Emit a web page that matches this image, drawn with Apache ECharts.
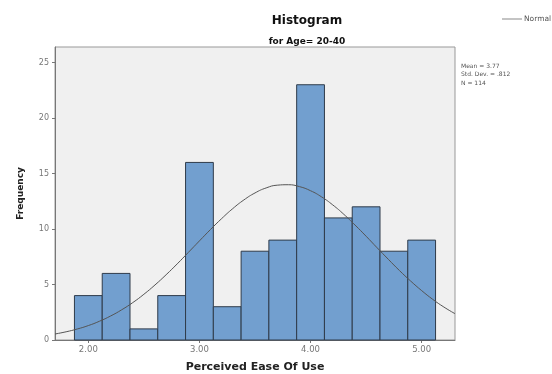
<!DOCTYPE html>
<html><head><meta charset="utf-8">
<script src="https://cdn.jsdelivr.net/npm/echarts@6/dist/echarts.min.js"></script>
<style>html,body{margin:0;padding:0;background:#fff}#c{width:552px;height:374px}</style>
</head><body><div id="c"></div>
<script>
// Bin centers (Perceived Ease Of Use), bin width 0.25
var binCenters = [2.00, 2.25, 2.50, 2.75, 3.00, 3.25, 3.50, 3.75, 4.00, 4.25, 4.50, 4.75, 5.00];
var frequencies = [4, 6, 1, 4, 16, 3, 8, 9, 23, 11, 12, 8, 9];
var binWidth = 0.25;
// Normal curve
var curveX = [1.7,1.8,1.9,2.0,2.1,2.2,2.3,2.4,2.5,2.6,2.7,2.8,2.9,3.0,3.1,3.2,3.3,3.4,3.5,3.6,3.7,3.8,3.9,4.0,4.1,4.2,4.3,4.4,4.5,4.6,4.7,4.8,4.9,5.0,5.1,5.2,5.3];
var curveY = [0.54,0.74,0.99,1.30,1.69,2.16,2.72,3.37,4.12,4.96,5.88,6.86,7.89,8.93,9.96,10.94,11.84,12.62,13.25,13.70,13.95,13.99,13.82,13.45,12.89,12.17,11.32,10.36,9.35,8.30,7.27,6.26,5.32,4.45,3.66,2.97,2.37];
var xTicks = [2, 3, 4, 5];
var yTicks = [0, 5, 10, 15, 20, 25];
var statsLines = ['Mean = 3.77', 'Std. Dev. = .812', 'N = 114'];

var FONT = '"DejaVu Sans", Arial, sans-serif';
var chart = echarts.init(document.getElementById('c'), null, {renderer: 'canvas'});
var barData = binCenters.map(function (c, i) { return [c, frequencies[i]]; });
var lineData = curveX.map(function (x, i) { return [x, curveY[i]]; });

chart.setOption({
  animation: false,
  title: [
    {text: 'Histogram', left: 302, top: 10, textAlign: 'center',
     textStyle: {fontFamily: FONT, fontSize: 12, fontWeight: 'bold', color: '#111'}},
    {text: 'for Age= 20-40', left: 302, top: 32, textAlign: 'center',
     textStyle: {fontFamily: FONT, fontSize: 9, fontWeight: 'bold', color: '#111'}}
  ],
  legend: {
    left: 497, top: 10, itemWidth: 20, itemHeight: 1, itemGap: 2,
    textStyle: {fontFamily: FONT, fontSize: 7.5, color: '#555', padding: [0, 0, 0, -3]},
    data: [{name: 'Normal', icon: 'rect', itemStyle: {color: '#888'}}]
  },
  graphic: [{
    type: 'text', left: 461, top: 62,
    style: {text: statsLines.join('\n'), font: '6px "DejaVu Sans", Arial', fill: '#555', lineHeight: 8.5}
  }],
  grid: {left: 55, right: 97, top: 47, bottom: 34, show: true, outerBoundsMode: 'none',
         containLabel: false,
         backgroundColor: '#f0f0f0', borderColor: '#999', borderWidth: 1},
  xAxis: {
    type: 'value', min: 1.7, max: 5.3,
    name: 'Perceived Ease Of Use', nameLocation: 'middle', nameGap: 22,
    nameTextStyle: {fontFamily: FONT, fontSize: 11, fontWeight: 'bold', color: '#222'},
    axisLine: {show: true, lineStyle: {color: '#777'}},
    axisTick: {show: true, customValues: xTicks, length: 3, lineStyle: {color: '#777'}},
    axisLabel: {show: true, customValues: xTicks, fontSize: 8.5, color: '#777', margin: 5,
                fontFamily: FONT,
                formatter: function (v) { return v.toFixed(2); }},
    splitLine: {show: false}
  },
  yAxis: {
    type: 'value', min: 0, max: 26.4, interval: 5,
    name: 'Frequency', nameLocation: 'middle', nameGap: 30, nameRotate: 90,
    nameTextStyle: {fontFamily: FONT, fontSize: 9, fontWeight: 'bold', color: '#222'},
    axisLine: {show: true, lineStyle: {color: '#777'}},
    axisTick: {show: true, customValues: yTicks, length: 3, lineStyle: {color: '#777'}},
    axisLabel: {show: true, customValues: yTicks, fontSize: 8, color: '#777', margin: 6,
                fontFamily: FONT},
    splitLine: {show: false}
  },
  series: [
    {
      type: 'custom', name: 'Frequency', z: 2,
      renderItem: function (params, api) {
        var c = api.value(0), f = api.value(1);
        var p0 = api.coord([c - binWidth / 2, f]);
        var p1 = api.coord([c + binWidth / 2, 0]);
        return {
          type: 'rect',
          shape: {x: p0[0], y: p0[1], width: p1[0] - p0[0], height: p1[1] - p0[1]},
          style: {fill: '#729fcf', stroke: '#2f3b4a', lineWidth: 1}
        };
      },
      encode: {x: 0, y: 1},
      data: barData
    },
    {
      type: 'line', name: 'Normal', z: 3, smooth: true, symbol: 'none',
      lineStyle: {color: '#555', width: 1},
      data: lineData
    }
  ]
});
</script></body></html>
